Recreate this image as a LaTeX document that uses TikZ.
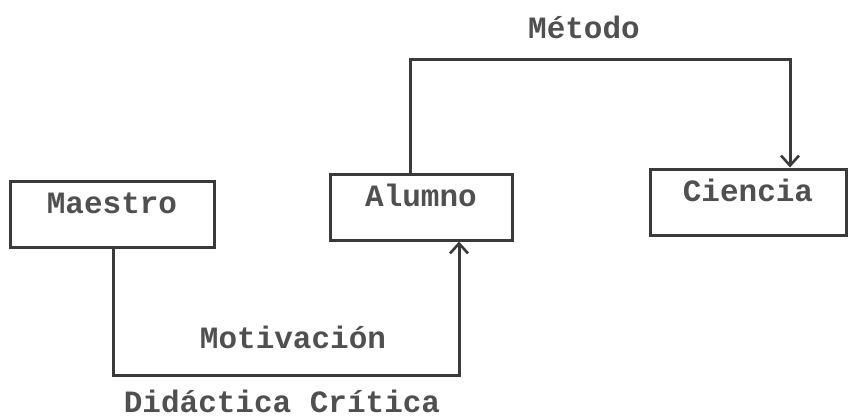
\documentclass[tikz,border=0pt]{standalone}
\usepackage{fontspec}
\setmainfont{Liberation Mono}
\usetikzlibrary{arrows.meta}
\definecolor{ink}{HTML}{3A3A3A}
\definecolor{tink}{HTML}{505050}
\tikzset{
  box/.style={draw=ink, line width=3pt, inner xsep=0pt, inner ysep=0pt,
    text height=32pt, text depth=34pt, text=tink,
    font=\bfseries\fontsize{31}{36}\selectfont},
  lbl/.style={text=tink, inner sep=0pt, font=\bfseries\fontsize{31}{36}\selectfont},
  link/.style={draw=ink, line width=3pt},
  arr/.style={link, -{Straight Barb[length=10pt, width=18pt, line width=2.6pt]}}
}
\begin{document}
\begin{tikzpicture}[x=1pt, y=-1pt]
\useasboundingbox[fill=white] (0,0) rectangle (849,420);
\node[box, minimum width=204pt] (maestro) at (112,214) {Maestro};
\node[box, minimum width=182pt] (alumno) at (421,207) {Alumno};
\node[box, minimum width=196pt] (ciencia) at (748,202) {Ciencia};
\node[lbl] (metodo) at (584,27) {Método};
\node[lbl] (motiv) at (293,337) {Motivación};
\node[lbl] (didac) at (282,401) {Didáctica Crítica};
\coordinate (c1) at (113,375);
\coordinate (c2) at (410,60);
\draw[arr] (maestro.south -| c1) -- (c1) -| ([xshift=38pt]alumno.south);
\draw[arr] (alumno.north -| c2) -- (c2) -| ([xshift=42pt]ciencia.north);
\end{tikzpicture}
\end{document}
